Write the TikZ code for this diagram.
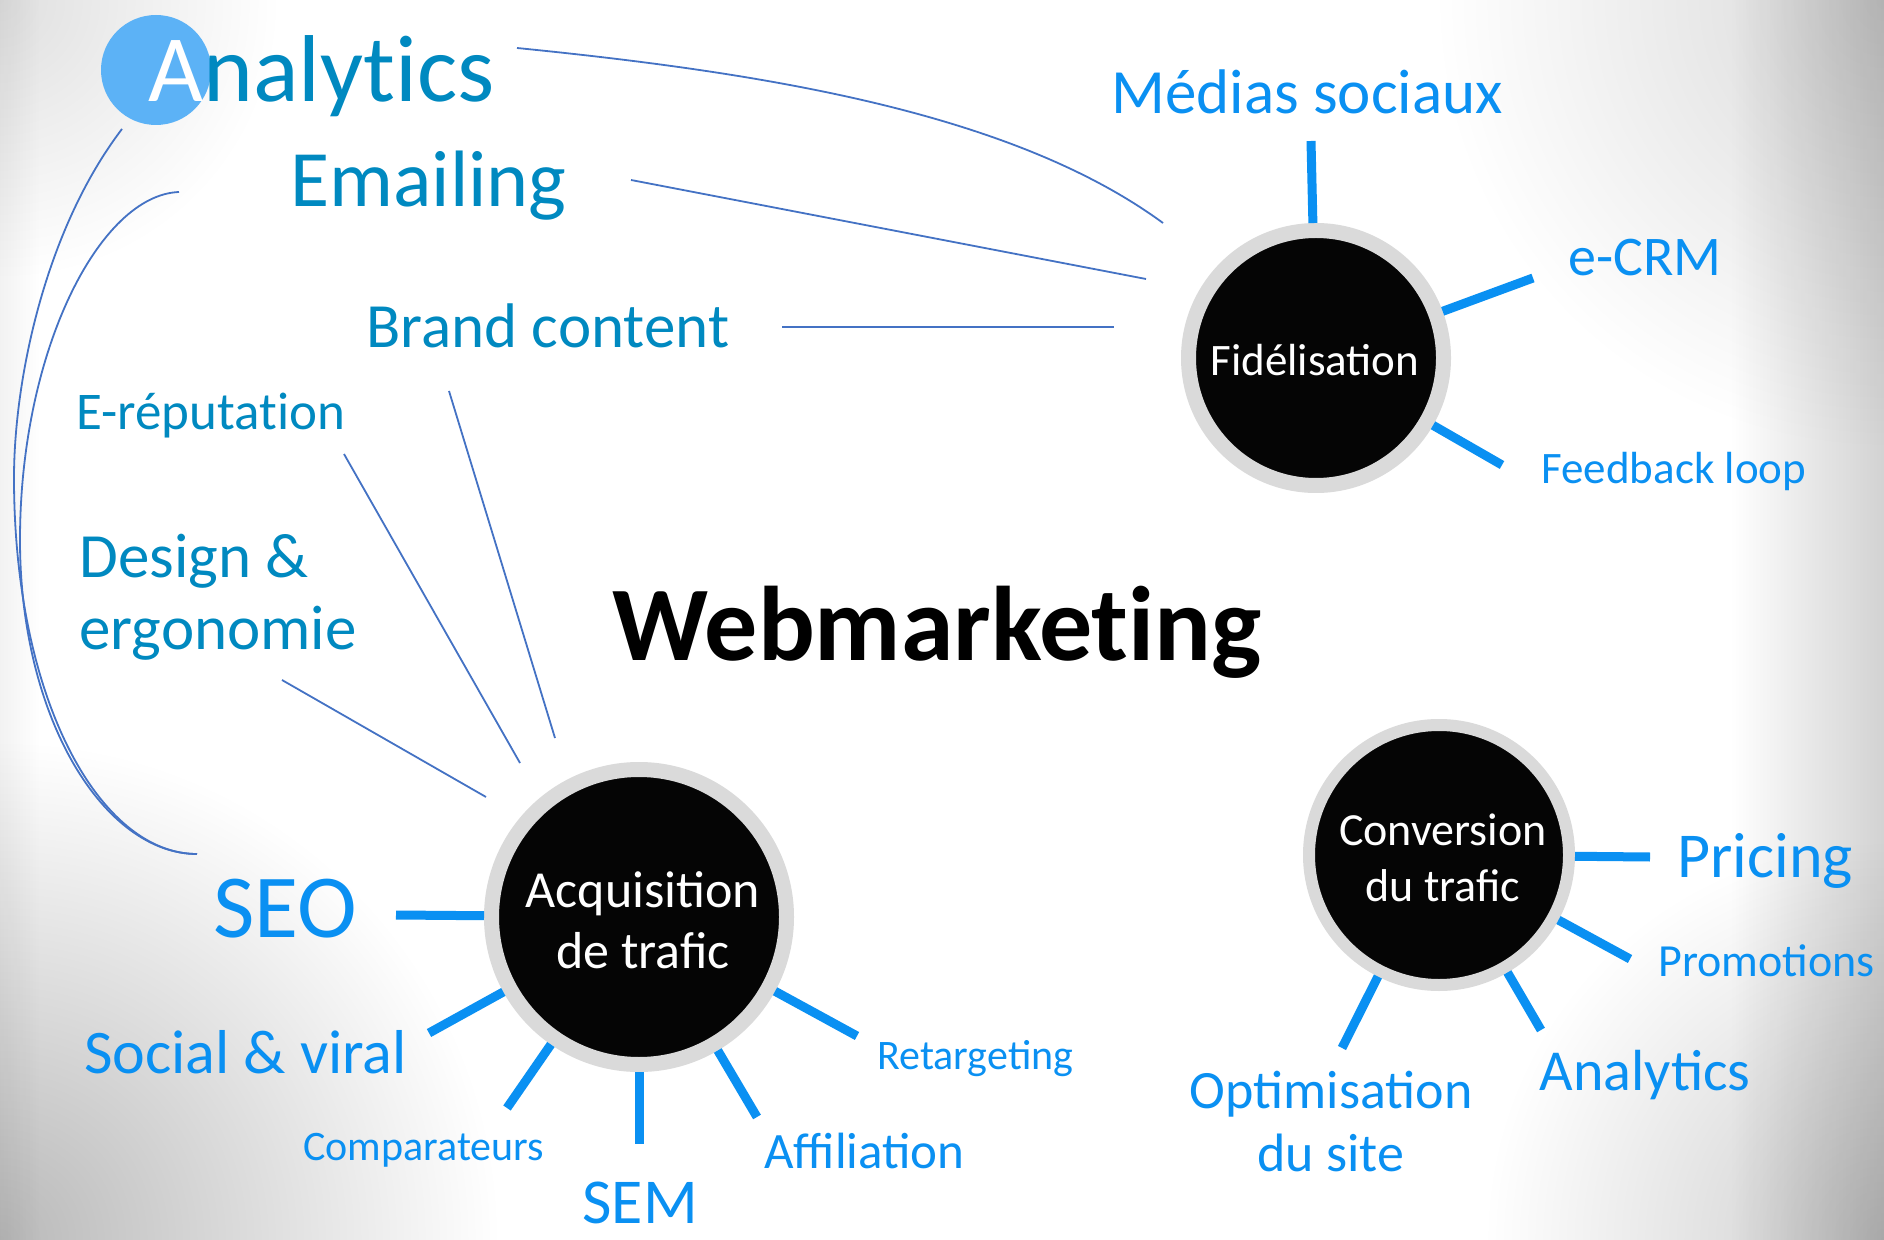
\documentclass[tikz,border=0pt]{standalone}
\usepackage{fontspec}
\setmainfont{Carlito}
\usetikzlibrary{calc}
\definecolor{tealtxt}{HTML}{0089C0}
\definecolor{brightb}{HTML}{0A90F2}
\definecolor{thinb}{HTML}{4472C4}
\definecolor{ringgray}{HTML}{DADADA}
\definecolor{blobblue}{HTML}{5CB2F6}
\definecolor{nearblack}{HTML}{050505}
\newcommand\myfs[2]{\fontsize{#1}{#2}\selectfont}
\begin{document}
\begin{tikzpicture}[x=0.5pt,y=-0.5pt,
  lbl/.style={inner sep=0pt, anchor=base west, text=brightb},
  tlbl/.style={inner sep=0pt, anchor=base west, text=tealtxt, font=\addfontfeatures{Ligatures=NoCommon}},
  ctext/.style={inner sep=0pt, anchor=base, text=white},
  ray/.style={draw=brightb, line width=4.5pt},
  thinline/.style={draw=thinb, line width=0.9pt},
  hub/.style={circle, fill=nearblack, draw=ringgray, inner sep=0pt}]
\useasboundingbox (0,0) rectangle (1884,1240);
% background vignette
\begin{scope}
  \clip (0,0) rectangle (1884,1240);
  \fill[white] (0,0) rectangle (1884,1240);
  \begin{scope}[blend mode=multiply]
    \shade[left color=gray!10, right color=white] (0,0) rectangle (40,1240);
    \shade[inner color=gray!25, outer color=white] (-280,-280) rectangle (280,280);
    \shade[inner color=gray!55, outer color=white] (-500,740) rectangle (500,1740);
    \shade[left color=white, right color=gray!35] (1730,0) rectangle (1884,1240);
    \shade[inner color=gray!40, outer color=white] (1484,840) rectangle (2284,1640);
    \shade[inner color=gray!30, outer color=white] (1434,-450) rectangle (2334,450);
  \end{scope}
\end{scope}

% hubs
\node[hub, line width=7.5pt, minimum size=127.5pt] (fid) at (1316,358) {};
\node[hub, line width=7.5pt, minimum size=147.5pt] (acq) at (639,917) {};
\node[hub, line width=6pt, minimum size=130pt] (conv) at (1439,855) {};
\node[ctext] (fidT) at (1315,376) {\myfs{22.5}{27}Fidélisation};
\node[ctext] (acqT) at (643,907) {\myfs{26}{30.5}\begin{tabular}[t]{@{}c@{}}Acquisition\\de trafic\end{tabular}};
\node[ctext] (convT) at (1443,845) {\myfs{23}{28}\begin{tabular}[t]{@{}c@{}}Conversion\\du trafic\end{tabular}};

% title
\node[inner sep=0pt, anchor=base west] (wm) at (612,661) {\bfseries\addfontfeatures{Ligatures=NoCommon}\myfs{53}{63}Webmarketing};

% left group labels
\node[circle, fill=blobblue, minimum size=55pt, inner sep=0pt] (blob) at (156,70) {};
\node[tlbl] (anl) at (148,102) {\myfs{47.5}{57}{\color{white}A}nalytics};
\node[tlbl] (eml) at (290,207) {\myfs{40}{48}Emailing};
\node[tlbl] (brd) at (366,348) {\myfs{31.5}{37}Brand content};
\node[tlbl] (erep) at (76,430) {\myfs{26.5}{32}E-réputation};
\node[tlbl] (dsg) at (79,577) {\myfs{31.5}{36}\begin{tabular}[t]{@{}l@{}}Design \&\\ergonomie\end{tabular}};

% Fidelisation labels
\node[lbl] (med) at (1111,114) {\myfs{31.5}{38}Médias sociaux};
\node[lbl] (ecrm) at (1568,276) {\myfs{28}{34}e-CRM};
\node[lbl] (fbl) at (1541,484) {\myfs{22.5}{27}Feedback loop};

% Acquisition labels
\node[lbl] (seo) at (213,937) {\myfs{45}{54}SEO};
\node[lbl] (soc) at (84,1073) {\myfs{31}{37}Social \& viral};
\node[lbl] (cmp) at (303,1160) {\myfs{21}{25}Comparateurs};
\node[lbl] (sem) at (582,1223) {\myfs{32}{38}SEM};
\node[lbl] (aff) at (764,1168) {\myfs{25.5}{30}Affiliation};
\node[lbl] (ret) at (877,1069) {\myfs{21}{25}Retargeting};

% Conversion labels
\node[lbl] (prc) at (1677,877) {\myfs{32}{38}Pricing};
\node[lbl] (prm) at (1658,976) {\myfs{23}{28}Promotions};
\node[lbl] (anr) at (1539,1090) {\myfs{29}{35}Analytics};
\node[lbl, anchor=base] (opt) at (1331,1108) {\myfs{27}{31.5}\begin{tabular}[t]{@{}c@{}}Optimisation\\du site\end{tabular}};

% ray ends
\coordinate (r-med) at (1311,141);
\coordinate (r-ecrm) at (1533,278);
\coordinate (r-fbl) at (1502,465);
\coordinate (r-seo) at (396,915);
\coordinate (r-soc) at (429,1033);
\coordinate (r-cmp) at (507,1108);
\coordinate (r-sem) at (639,1144);
\coordinate (r-aff) at (757,1117);
\coordinate (r-ret) at (857,1036);
\coordinate (r-prc) at (1650,857);
\coordinate (r-prm) at (1630,959);
\coordinate (r-anr) at (1541,1030);
\coordinate (r-opt) at (1342,1048);

\draw[ray] (fid) -- (r-med);
\draw[ray] (fid) -- (r-ecrm);
\draw[ray] (fid) -- (r-fbl);
\draw[ray] (acq) -- (r-seo);
\draw[ray] (acq) -- (r-soc);
\draw[ray] (acq) -- (r-cmp);
\draw[ray] (acq) -- (r-sem);
\draw[ray] (acq) -- (r-aff);
\draw[ray] (acq) -- (r-ret);
\draw[ray] (conv) -- (r-prc);
\draw[ray] (conv) -- (r-prm);
\draw[ray] (conv) -- (r-anr);
\draw[ray] (conv) -- (r-opt);

% thin connectors
\coordinate (t-anl) at (517,48);
\coordinate (t-anlF) at (1163,223);
\coordinate (t-eml) at (631,180);
\coordinate (t-emlF) at (1146,279);
\coordinate (t-brd) at (782,327);
\coordinate (t-brdF) at (1114,327);
\coordinate (t-brd2) at (449,391);
\coordinate (t-brdA) at (555,738);
\coordinate (t-erep) at (344,454);
\coordinate (t-erepA) at (520,763);
\coordinate (t-dsg) at (282,680);
\coordinate (t-dsgA) at (486,797);
\coordinate (t-anlL) at (122,129);
\coordinate (t-emlL) at (179,192);
\coordinate (t-seo) at (197,854);

\draw[thinline] (t-anl) .. controls (767,73) and (1013,113) .. (t-anlF);
\draw[thinline] (t-eml) -- (t-emlF);
\draw[thinline] (t-brd) -- (t-brdF);
\draw[thinline] (t-brd2) -- (t-brdA);
\draw[thinline] (t-erep) -- (t-erepA);
\draw[thinline] (t-dsg) -- (t-dsgA);
\draw[thinline] (t-anlL) .. controls (45,230) and (14,380) .. (14,478) .. controls (14,700) and (100,854) .. (t-seo);
\draw[thinline] (t-emlL) .. controls (100,195) and (20,350) .. (20,540) .. controls (20,720) and (105,854) .. (t-seo);
\end{tikzpicture}
\end{document}
